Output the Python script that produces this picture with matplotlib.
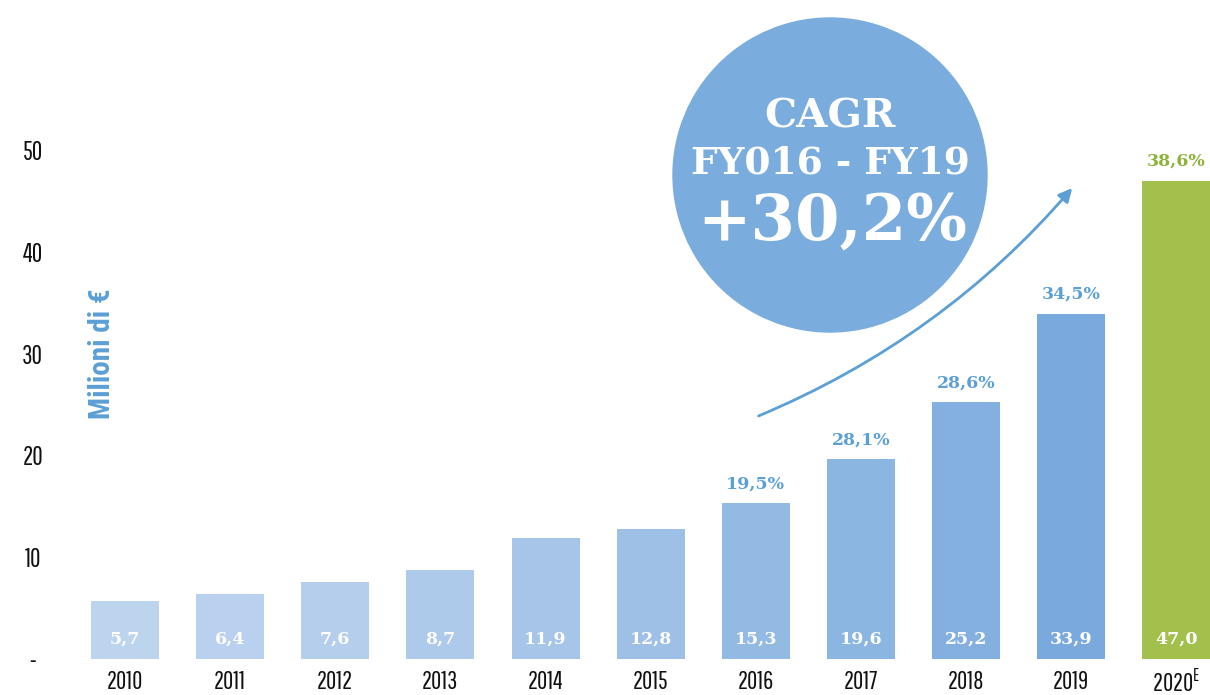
import matplotlib.pyplot as plt
from matplotlib.patches import Circle

# Dati (milioni di euro)
anni = ['2010', '2011', '2012', '2013', '2014', '2015', '2016', '2017', '2018', '2019',
        r'2020$^\mathregular{E}$']
valori = [5.7, 6.4, 7.6, 8.7, 11.9, 12.8, 15.3, 19.6, 25.2, 33.9, 47.0]
etichette_valori = ['5,7', '6,4', '7,6', '8,7', '11,9', '12,8', '15,3', '19,6', '25,2', '33,9', '47,0']
crescita = ['', '', '', '', '', '', '19,5%', '28,1%', '28,6%', '34,5%', '38,6%']
y_ticks = [0, 10, 20, 30, 40, 50]
y_tick_labels = ['-', '10', '20', '30', '40', '50']

colori = ['#bdd4ef', '#b9d1ee', '#b4ceec', '#adcaea', '#a6c5e8', '#9ec0e6',
          '#93bae3', '#8cb6e2', '#84b0df', '#7aaadd', '#a4c04c']
blu = '#5b9fd6'
verde = '#8db33a'
font_tick = ['Pathway Gothic One', 'DejaVu Sans']
font_label = ['Roboto Condensed', 'DejaVu Sans']
font_serif = 'DejaVu Serif'

plt.rcParams['mathtext.fontset'] = 'custom'
plt.rcParams['mathtext.rm'] = 'Pathway Gothic One'

fig = plt.figure(figsize=(12.1, 6.95), dpi=100)
ax = fig.add_axes([80 / 1210, 36 / 695, 1130 / 1210, 659 / 695])

x = list(range(len(anni)))
ax.bar(x, valori, width=0.647, color=colori)

for i, v in enumerate(valori):
    ax.text(i, 2.0, etichette_valori[i], ha='center', va='center', color='white',
            fontsize=12.5, fontweight='bold', family=font_serif)
    if crescita[i]:
        c = verde if i == len(valori) - 1 else blu
        ax.text(i, v + 1.9, crescita[i], ha='center', va='center', color=c,
                fontsize=12.5, fontweight='bold', family=font_serif)

ax.set_xlim(-0.428, 10.32)
ax.set_ylim(0, 64.74)
ax.set_xticks(x)
ax.set_xticklabels(anni, fontsize=18, family=font_tick, color='#111111')
ax.set_yticks(y_ticks)
ax.set_yticklabels(y_tick_labels, fontsize=18.5, family=font_tick, color='#111111', ha='center')
ax.tick_params(axis='y', length=0, pad=34)
ax.tick_params(axis='x', length=0, pad=8)
for s in ax.spines.values():
    s.set_visible(False)

fig.text(102 / 1210, 1 - 354 / 695, 'Milioni di €', rotation=90, ha='center', va='center',
         color=blu, fontsize=21, fontweight='bold', family=font_label)

# Cerchio CAGR
cerchio = Circle((8.30, 5.20), 1.57, transform=fig.dpi_scale_trans, color='#7aaddd', zorder=0)
fig.patches.append(cerchio)
fig.text(830 / 1210, 1 - 117 / 695, 'CAGR', ha='center', va='center', color='white',
         fontsize=29, fontweight='bold', family=font_serif)
fig.text(830 / 1210, 1 - 163 / 695, 'FY016 - FY19', ha='center', va='center', color='white',
         fontsize=27, fontweight='bold', family=font_serif)
fig.text(832 / 1210, 1 - 222 / 695, '+30,2%', ha='center', va='center', color='white',
         fontsize=46, fontweight='bold', family=font_serif)

# Freccia
ax.annotate('', xy=(1074, 695 - 186), xytext=(756, 695 - 417),
            xycoords='figure pixels', textcoords='figure pixels',
            arrowprops=dict(arrowstyle='-|>,head_length=0.8,head_width=0.4', color=blu, lw=2.0,
                            connectionstyle='arc3,rad=0.12'))

fig.savefig('out.png', dpi=100)
